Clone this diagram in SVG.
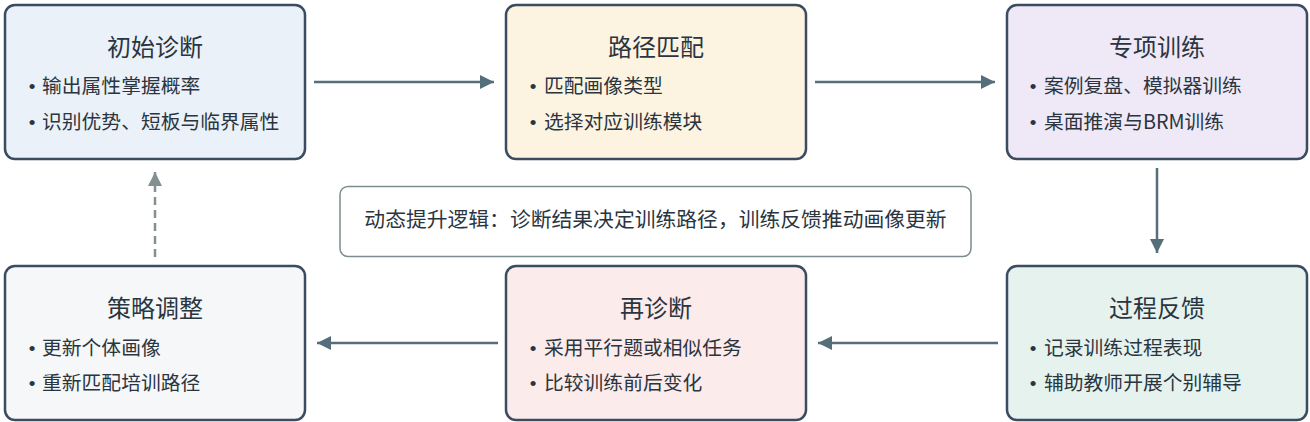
<svg xmlns="http://www.w3.org/2000/svg" width="1310" height="422" viewBox="0 0 1310 422">
<defs>
<style>
.box{stroke:#3b4c60;stroke-width:2.5}
.t{font-family:"Noto Sans CJK SC","Noto Sans",sans-serif;fill:#2a3540}
.title{font-size:24px;text-anchor:middle}
.item{font-size:19.8px}
.dot{font-family:"Liberation Sans",sans-serif;font-size:19px;fill:#2a3540;text-anchor:middle}
.conn{stroke:#546e7a;stroke-width:2.5;fill:none}
.dash{stroke:#84908f;stroke-width:2.5;fill:none;stroke-dasharray:8 5}
</style>
<marker id="ah" viewBox="0 0 10 10" refX="10" refY="5" markerWidth="14" markerHeight="14" markerUnits="userSpaceOnUse" orient="auto">
<path d="M0,0 L10,5 L0,10 Z" fill="#546e7a"/>
</marker>
<marker id="ahg" viewBox="0 0 10 10" refX="10" refY="5" markerWidth="14" markerHeight="14" markerUnits="userSpaceOnUse" orient="auto">
<path d="M0,0 L10,5 L0,10 Z" fill="#84908f"/>
</marker>
</defs>
<rect width="1310" height="422" fill="#ffffff"/>

<g id="connectors">
<line class="conn" x1="314" y1="82" x2="494" y2="82" marker-end="url(#ah)"/>
<line class="conn" x1="815" y1="82" x2="995" y2="82" marker-end="url(#ah)"/>
<line class="conn" x1="1157" y1="168" x2="1157" y2="253" marker-end="url(#ah)"/>
<line class="conn" x1="998" y1="343" x2="818" y2="343" marker-end="url(#ah)"/>
<line class="conn" x1="498" y1="343" x2="317" y2="343" marker-end="url(#ah)"/>
<line class="dash" x1="155" y1="257" x2="155" y2="172" marker-end="url(#ahg)"/>
</g>

<g id="note">
<rect x="340" y="186.5" width="631" height="70" rx="8" fill="#ffffff" stroke="#7d8c90" stroke-width="1.5"/>
<text class="t" x="655.5" y="227" font-size="20.8" text-anchor="middle">动态提升逻辑：诊断结果决定训练路径，训练反馈推动画像更新</text>
</g>

<g id="node1">
<rect class="box" x="5" y="5" width="300" height="154" rx="10" fill="#eaf1f8"/>
<text class="t title" x="155" y="56">初始诊断</text>
<text class="dot" x="32" y="93">•</text>
<text class="t item" x="42" y="93">输出属性掌握概率</text>
<text class="dot" x="32" y="129">•</text>
<text class="t item" x="42" y="129">识别优势、短板与临界属性</text>
</g>

<g id="node2">
<rect class="box" x="506" y="5" width="300" height="154" rx="10" fill="#fdf3e1"/>
<text class="t title" x="656" y="56">路径匹配</text>
<text class="dot" x="533" y="93">•</text>
<text class="t item" x="544" y="93">匹配画像类型</text>
<text class="dot" x="533" y="129">•</text>
<text class="t item" x="544" y="129">选择对应训练模块</text>
</g>

<g id="node3">
<rect class="box" x="1007" y="5" width="300" height="154" rx="10" fill="#efe8f6"/>
<text class="t title" x="1157" y="56">专项训练</text>
<text class="dot" x="1033" y="93">•</text>
<text class="t item" x="1044" y="93">案例复盘、模拟器训练</text>
<text class="dot" x="1033" y="129">•</text>
<text class="t item" x="1044" y="129">桌面推演与BRM训练</text>
</g>

<g id="node4">
<rect class="box" x="1007" y="266" width="300" height="154" rx="10" fill="#e5f2ee"/>
<text class="t title" x="1157" y="317">过程反馈</text>
<text class="dot" x="1033" y="355">•</text>
<text class="t item" x="1044" y="355">记录训练过程表现</text>
<text class="dot" x="1033" y="390">•</text>
<text class="t item" x="1044" y="390">辅助教师开展个别辅导</text>
</g>

<g id="node5">
<rect class="box" x="506" y="266" width="300" height="154" rx="10" fill="#fcebeb"/>
<text class="t title" x="656" y="317">再诊断</text>
<text class="dot" x="533" y="355">•</text>
<text class="t item" x="544" y="355">采用平行题或相似任务</text>
<text class="dot" x="533" y="390">•</text>
<text class="t item" x="544" y="390">比较训练前后变化</text>
</g>

<g id="node6">
<rect class="box" x="5" y="266" width="300" height="154" rx="10" fill="#f5f7f8"/>
<text class="t title" x="155" y="317">策略调整</text>
<text class="dot" x="32" y="355">•</text>
<text class="t item" x="42" y="355">更新个体画像</text>
<text class="dot" x="32" y="390">•</text>
<text class="t item" x="42" y="390">重新匹配培训路径</text>
</g>
</svg>
